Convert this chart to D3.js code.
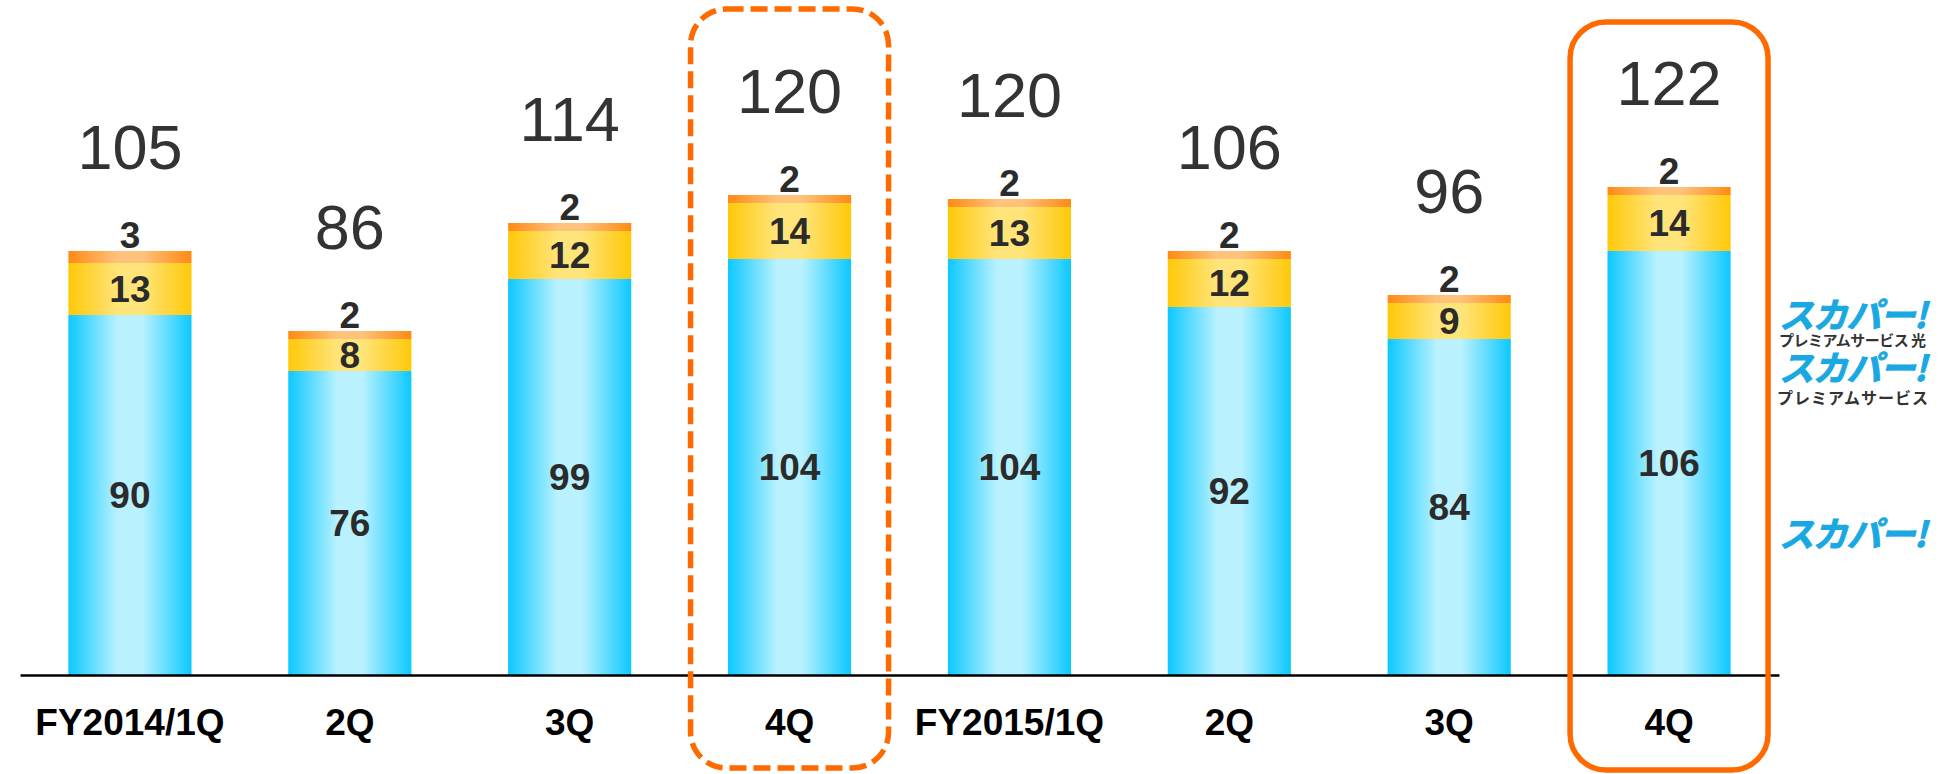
<!DOCTYPE html>
<html>
<head>
<meta charset="utf-8">
<script src="https://cdn.jsdelivr.net/npm/d3@7"></script>
<style>
  html, body { margin: 0; padding: 0; background: #fff; }
  svg { display: block; font-family: "Liberation Sans", Arial, sans-serif; }
</style>
</head>
<body>
<div id="chart"></div>
<script>
// quarters and subscriber counts (10k)
const quarters = ["FY2014/1Q", "2Q", "3Q", "4Q", "FY2015/1Q", "2Q", "3Q", "4Q"];
const skyValues = [90, 76, 99, 104, 104, 92, 84, 106];
const premiumValues = [13, 8, 12, 14, 13, 12, 9, 14];
const hikariValues = [3, 2, 2, 2, 2, 2, 2, 2];
const totals = [105, 86, 114, 120, 120, 106, 96, 122];
const highlightIdx = [3, 7];

const width = 1941, height = 774;
const baseY = 675;

const svg = d3.select('#chart')
    .append('svg')
    .attr('width', width)
    .attr('height', height);

const defs = svg.append('defs');
function hGrad(id, edge, mid){
    const g = defs.append('linearGradient')
        .attr('id', id)
        .attr('x1', '0%').attr('x2', '100%')
        .attr('y1', '0%').attr('y2', '0%');
    g.append('stop').attr('offset', '0%').attr('stop-color', edge);
    g.append('stop').attr('offset', '40%').attr('stop-color', mid);
    g.append('stop').attr('offset', '60%').attr('stop-color', mid);
    g.append('stop').attr('offset', '100%').attr('stop-color', edge);
}
hGrad('gSky', '#0cc8ff', '#b9f1ff');
hGrad('gPrem', '#ffc808', '#ffe47a');
hGrad('gHik', '#ff8a14', '#ffc27a');

const x = d3.scaleBand()
    .domain(d3.range(quarters.length))
    .range([20, 1779])
    .paddingInner(0.44)
    .paddingOuter(0.22);

const y = d3.scaleLinear()
    .domain([0, 100])
    .range([baseY, baseY - 400]);

// stack the three series
const rows = quarters.map((q, i) => ({
    i: i, sky: skyValues[i], prem: premiumValues[i], hik: hikariValues[i]
}));
const stack = d3.stack().keys(['sky', 'prem', 'hik']);
const series = stack(rows);
const fills = {sky: 'url(#gSky)', prem: 'url(#gPrem)', hik: 'url(#gHik)'};

const layers = svg.append('g').attr('class', 'bars')
    .selectAll('g')
    .data(series)
    .join('g')
    .attr('fill', d => fills[d.key]);

layers.selectAll('rect')
    .data(d => d)
    .join('rect')
    .attr('x', d => x(d.data.i))
    .attr('width', x.bandwidth())
    .attr('y', d => y(d[1]))
    .attr('height', d => y(d[0]) - y(d[1]));

// segment labels
const labels = svg.append('g')
    .attr('font-weight', 'bold')
    .attr('font-size', 37)
    .attr('fill', '#2b2b2b')
    .attr('text-anchor', 'middle');

series.forEach(s => {
    labels.selectAll('text.l-' + s.key)
        .data(s)
        .join('text')
        .attr('class', 'l-' + s.key)
        .attr('x', d => x(d.data.i) + x.bandwidth() / 2)
        .attr('y', d => {
            if (s.key === 'hik') return y(d[1]) - 3;
            return (y(d[0]) + y(d[1])) / 2;
        })
        .attr('dy', d => s.key === 'hik' ? 0 : '0.36em')
        .text(d => d.data[s.key]);
});

// totals
svg.append('g')
    .attr('font-size', 63)
    .attr('fill', '#333')
    .attr('text-anchor', 'middle')
    .selectAll('text')
    .data(totals)
    .join('text')
    .attr('x', (d, i) => x(i) + x.bandwidth() / 2)
    .attr('y', (d, i) => y(skyValues[i] + premiumValues[i] + hikariValues[i]) - 82)
    .text(d => d);

// axis
const xAxis = d3.axisBottom(x)
    .tickSize(0)
    .tickPadding(34)
    .tickFormat(i => quarters[i]);

const ax = svg.append('g')
    .attr('class', 'x axis')
    .attr('transform', `translate(0, ${baseY})`)
    .call(xAxis);
ax.select('.domain')
    .attr('stroke', '#000')
    .attr('stroke-width', 2.5);
ax.selectAll('text')
    .attr('font-family', '"Liberation Sans", Arial, sans-serif')
    .attr('font-size', 37)
    .attr('font-weight', 'bold')
    .attr('fill', '#000');

// highlight boxes
svg.append('g')
    .selectAll('rect')
    .data(highlightIdx)
    .join('rect')
    .attr('x', i => x(i) + x.bandwidth() / 2 - 99)
    .attr('width', 198)
    .attr('y', (i, k) => k === 0 ? 9 : 22)
    .attr('height', (i, k) => k === 0 ? 759 : 748)
    .attr('rx', 36)
    .attr('fill', 'none')
    .attr('stroke', '#ff6a00')
    .attr('stroke-width', 5.5)
    .attr('stroke-dasharray', (i, k) => k === 0 ? '17,7' : null);

// service logos at right
const legend = svg.append('g')
    .attr('font-family', '"Noto Sans CJK JP", sans-serif');
const logo = (yy) => legend.append('text')
    .attr('transform', `translate(1779, ${yy}) skewX(-14)`)
    .attr('font-size', 35)
    .attr('font-weight', 'bold')
    .attr('fill', '#1aa8e2')
    .attr('stroke', '#1aa8e2')
    .attr('stroke-width', 1)
    .attr('textLength', 148)
    .text('スカパー!');
logo(328);
legend.append('text')
    .attr('x', 1779).attr('y', 346)
    .attr('font-size', 15)
    .attr('font-weight', 'bold')
    .attr('fill', '#333')
    .attr('textLength', 147)
    .text('プレミアムサービス 光');
logo(381);
legend.append('text')
    .attr('x', 1777).attr('y', 404)
    .attr('font-size', 16)
    .attr('font-weight', 'bold')
    .attr('fill', '#333')
    .attr('textLength', 151)
    .text('プレミアムサービス');
logo(547);
</script>
</body>
</html>
